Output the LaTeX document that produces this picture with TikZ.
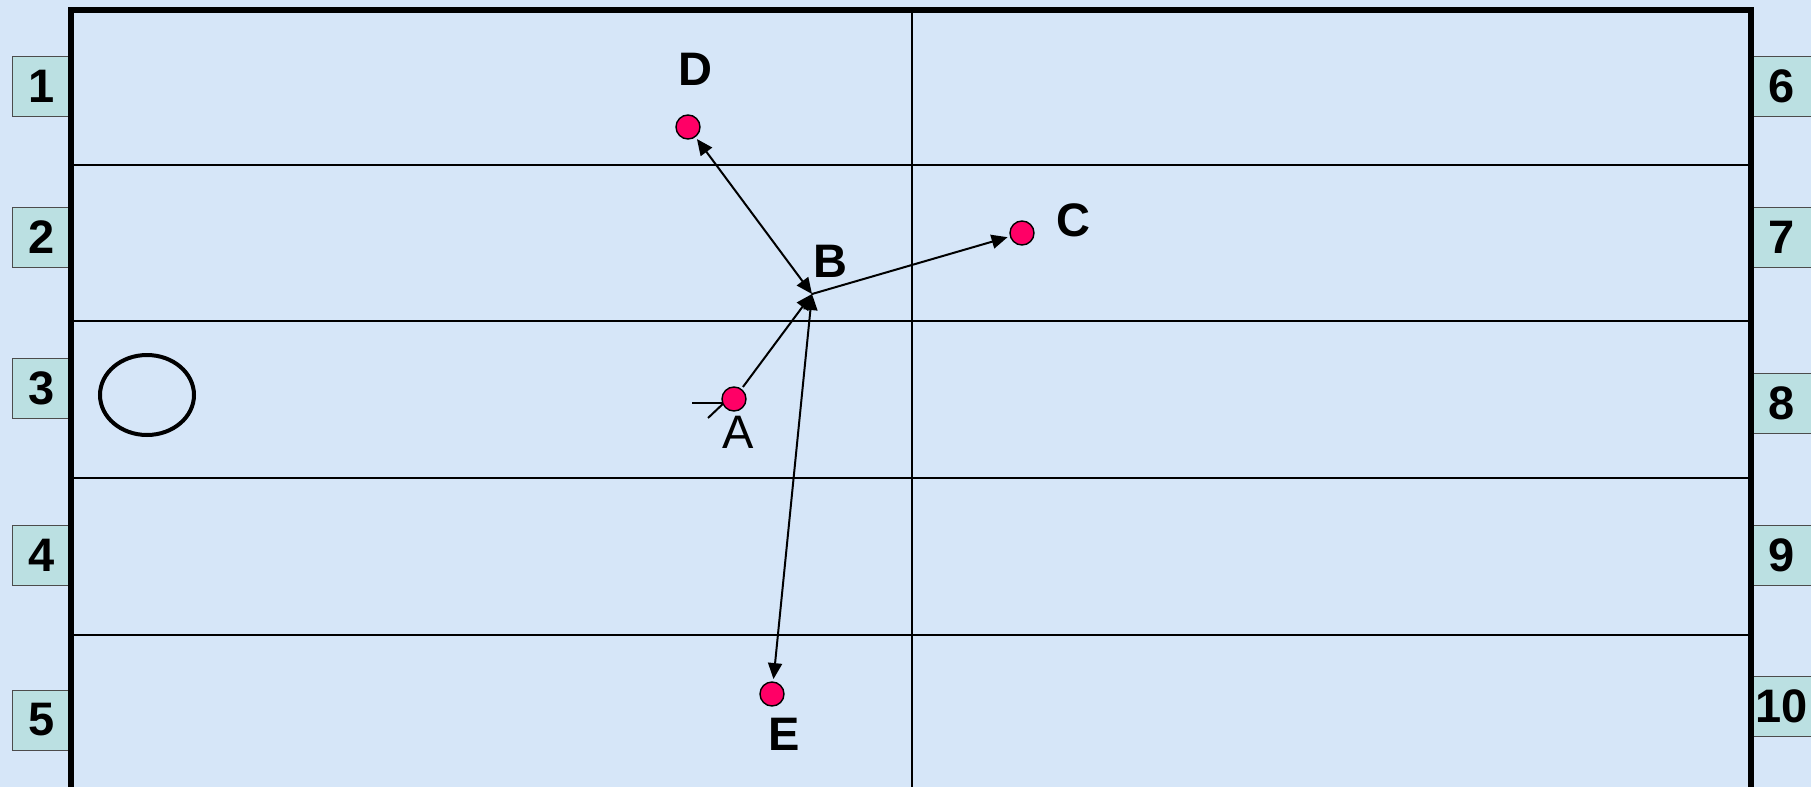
\documentclass[tikz,border=0pt]{standalone}
\usepackage{fontspec}
\setmainfont{Liberation Sans}
\usetikzlibrary{arrows.meta,positioning}
\definecolor{pitch}{RGB}{214,230,248}
\definecolor{tag}{RGB}{187,224,226}
\definecolor{dotred}{RGB}{255,0,102}
\tikzset{num/.style={draw=black!70,fill=tag,minimum width=29.5pt,minimum height=30pt,inner sep=0pt,font=\fontsize{23.5}{28}\selectfont\bfseries},
 pl/.style={circle,draw=black,fill=dotred,minimum size=12pt,inner sep=0pt,line width=.7pt,outer sep=1.5pt},
 lab/.style={font=\fontsize{23.5}{28}\selectfont\bfseries,inner sep=0pt},
 pass/.style={-{Triangle[length=8pt,width=7pt]},line width=1pt},
 both/.style={{Triangle[length=8pt,width=7pt]}-{Triangle[length=8pt,width=7pt]},line width=1pt},
 lane/.style={line width=1pt},rim/.style={line width=2.75pt}}

\begin{document}
\begin{tikzpicture}[x=.5pt,y=-.5pt]
\fill[pitch] (0,0) rectangle (1811,787);
\useasboundingbox (0,0) rectangle (1811,787);
% zone numbers
\foreach \n/\y in {1/86,2/237,3/388,4/555,5/720}{\node[num] (t\n) at (41.5,\y) {\n};}
\foreach \n/\y in {6/86,7/237,8/403,9/555,10/706}{\node[num] (t\n) at (1781.5,\y) {\n};}
% field
\foreach \y in {165,321,478,635}{\draw[lane] (71,\y) -- (1751,\y);}
\draw[lane] (912,10) -- (912,787);
\draw[rim] (71,787) -- (71,10) -- (1751,10) -- (1751,787);
\draw[line width=2pt] (147,395) ellipse [x radius=23.5pt,y radius=20pt];
% players
\draw[line width=1pt] (692,403) -- (730,403);\draw[line width=1pt] (708,418) -- (726,401);
\node[pl] (A) at (734,399) {};
\node[pl] (C) at (1022,233) {};
\node[pl] (D) at (688,127) {};
\node[pl] (E) at (772,694) {};
\coordinate (B) at (812,294);
\node[lab,font=\fontsize{23.5}{28}\selectfont] at (738,432) {A};
\node[lab] at (830,261) {B};
\node[lab] at (1073,220) {C};
\node[lab] at (695,69) {D};
\node[lab] at (784,734) {E};
% passes
\draw[pass] (A) -- (B);
\draw[pass] (B) -- (C);
\draw[both] (D) -- (B);
\draw[both] (E) -- (B);
\end{tikzpicture}
\end{document}
